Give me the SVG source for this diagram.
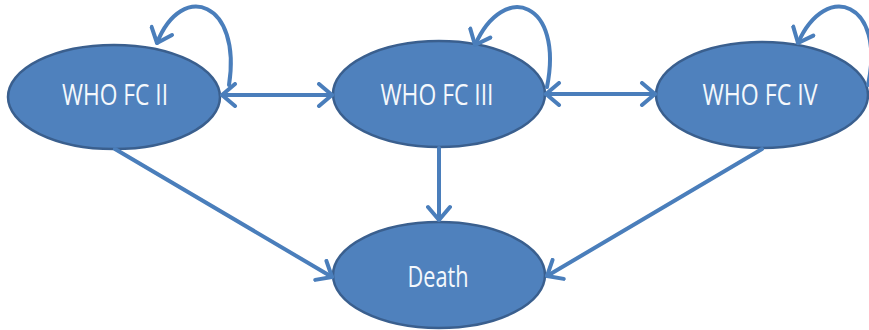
<svg xmlns="http://www.w3.org/2000/svg" width="869" height="330" viewBox="0 0 869 330">
<style>
.node ellipse{fill:#4f81bd;stroke:#3a5f8e;stroke-width:2.5}
.node text{fill:#f4f8fc;font-family:"Open Sans","Liberation Sans",sans-serif;font-size:29px;text-anchor:middle}
.edge{fill:none;stroke:#4a7ebb;stroke-width:4;stroke-linecap:round}
</style>
<defs>
<marker id="ah" viewBox="-16 -13 18 26" refX="0" refY="0" markerWidth="18" markerHeight="26" markerUnits="userSpaceOnUse" orient="auto-start-reverse">
<path d="M-13,-11 L0,0 L-13,11" fill="none" stroke="#4a7ebb" stroke-width="4" stroke-linecap="round" stroke-linejoin="round"/>
</marker>
</defs>
<rect width="869" height="330" fill="#ffffff"/>
<g id="n-fc2" class="node"><ellipse cx="114" cy="97" rx="106" ry="52"/><text x="115" y="105" textLength="106" lengthAdjust="spacingAndGlyphs">WHO FC II</text></g>
<g id="n-fc3" class="node"><ellipse cx="439" cy="94" rx="106" ry="53"/><text x="437" y="105" textLength="113" lengthAdjust="spacingAndGlyphs">WHO FC III</text></g>
<g id="n-fc4" class="node"><ellipse cx="762" cy="95" rx="106" ry="53"/><text x="760" y="105" textLength="115" lengthAdjust="spacingAndGlyphs">WHO FC IV</text></g>
<g id="n-death" class="node"><ellipse cx="439" cy="275" rx="106" ry="53"/><text x="438" y="287" textLength="61" lengthAdjust="spacingAndGlyphs">Death</text></g>
<g id="connectors">
<path class="edge" d="M222,95 L332,95" marker-start="url(#ah)" marker-end="url(#ah)"/>
<path class="edge" d="M546,94 L655,94" marker-start="url(#ah)" marker-end="url(#ah)"/>
<path class="edge" d="M229,85 C242,2 182,-20 157,43" marker-end="url(#ah)"/>
<path class="edge" d="M547,87 C564,2 504,-20 475,45" marker-end="url(#ah)"/>
<path class="edge" d="M868,85 C886,2 826,-20 798,43" marker-end="url(#ah)"/>
<path class="edge" d="M115,149 L332,277" marker-end="url(#ah)"/>
<path class="edge" d="M439,148 L439,220" marker-end="url(#ah)"/>
<path class="edge" d="M762,149 L547,276" marker-end="url(#ah)"/>
</g>
</svg>
